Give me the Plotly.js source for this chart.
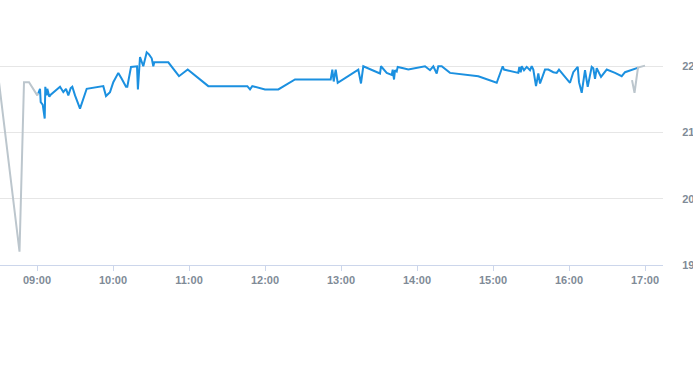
<!DOCTYPE html>
<html>
<head>
<meta charset="utf-8">
<script src="https://cdn.plot.ly/plotly-3.0.1.min.js"></script>
<style>html,body{margin:0;padding:0;background:#fff;}#chart{width:693px;height:365px;}</style>
</head>
<body>
<div id="chart"></div>
<script>
const DAY = "2024-01-01 ";

const blueTimes = ["09:01:02","09:02:22","09:02:55","09:04:30","09:06:05","09:06:33","09:07:40","09:08:08","09:09:43","09:10:49",
"09:18:10","09:20:46","09:22:53","09:24:43","09:26:36","09:27:52","09:30:00","09:33:57","09:39:14","09:52:20",
"09:54:28","09:57:38","10:00:14","10:04:11","10:06:52","10:10:16","10:11:17","10:14:13","10:18:57","10:19:39",
"10:21:19","10:23:55","10:26:36","10:28:25","10:30:33","10:31:49","10:32:36","10:43:40","10:52:06","10:58:58",
"11:15:14","11:46:02","11:48:10","11:49:58","12:00:00","12:10:30","12:23:41","12:51:52","12:53:08","12:54:14",
"12:55:49","12:57:24","13:13:39","13:15:47","13:17:36","13:30:47","13:31:35","13:36:05","13:40:02","13:40:49",
"13:41:51","13:42:38","13:43:58","13:44:46","13:49:11","13:53:08","14:06:19","14:10:16","14:12:52","14:15:33",
"14:16:49","14:19:30","14:26:03","14:48:23","15:02:55","15:07:39","15:08:41","15:19:58","15:20:46","15:21:52",
"15:22:40","15:24:28","15:26:37","15:29:13","15:30:33","15:31:49","15:33:57","15:35:46","15:37:07","15:41:03",
"15:43:40","15:47:37","15:50:17","15:52:06","15:56:50","16:00:47","16:03:23","16:06:52","16:07:53","16:10:02",
"16:12:38","16:14:46","16:17:55","16:19:11","16:20:32","16:21:52","16:25:16","16:29:46","16:36:19","16:41:37",
"16:44:13","16:52:07","16:54:43"];
const blueValues = [21.59,21.66,21.46,21.42,21.21,21.69,21.56,21.66,21.54,21.57,
21.69,21.61,21.66,21.56,21.67,21.69,21.56,21.36,21.66,21.70,
21.55,21.61,21.76,21.90,21.81,21.69,21.69,21.99,22.00,21.65,
22.14,22.00,22.21,22.18,22.12,22.00,22.06,22.06,21.85,21.95,
21.70,21.70,21.65,21.70,21.65,21.65,21.80,21.80,21.95,21.77,
21.95,21.75,21.95,21.74,22.00,21.89,22.00,21.90,21.87,21.95,
21.80,21.94,21.92,21.99,21.97,21.95,22.00,21.94,22.00,21.89,
22.00,22.00,21.90,21.85,21.75,22.00,21.95,21.90,21.99,21.91,
22.00,21.94,21.99,21.94,22.00,21.95,21.70,21.89,21.74,21.95,
21.95,21.91,21.90,21.95,21.84,21.75,21.91,21.99,21.76,21.60,
21.94,21.69,21.99,21.97,21.81,21.97,21.84,21.95,21.90,21.85,
21.91,21.97,21.98];

const grayStartTimes = ["08:30:00","08:46:11","08:49:44","08:53:41","09:00:14","09:01:02"];
const grayStartValues = [21.76,19.20,21.76,21.76,21.56,21.59];

const grayEndTimes = ["16:49:44","16:51:43","16:54:28","17:00:00"];
const grayEndValues = [21.79,21.60,21.98,22.01];

const yTicks = [19,20,21,22];
const xRange = ["08:30:47","17:14:12"];

const toX = arr => arr.map(t => DAY + t);
const grayColor = "#bcc6cd";
const blueColor = "#1b90e0";

const traces = [
  {x: toX(grayStartTimes), y: grayStartValues, type: "scatter", mode: "lines",
   line: {color: grayColor, width: 2}, hoverinfo: "skip"},
  {x: toX(blueTimes), y: blueValues, type: "scatter", mode: "lines",
   line: {color: blueColor, width: 2}},
  {x: toX(grayEndTimes), y: grayEndValues, type: "scatter", mode: "lines",
   line: {color: grayColor, width: 2}, hoverinfo: "skip"}
];

const layout = {
  width: 693, height: 365,
  margin: {l: 0, r: 30, t: 0, b: 100, pad: 0},
  paper_bgcolor: "#ffffff", plot_bgcolor: "#ffffff",
  showlegend: false,
  font: {family: "Liberation Sans, Arial, sans-serif", size: 11, color: "#7f8b97"},
  xaxis: {
    type: "date",
    range: xRange.map(t => DAY + t),
    dtick: 3600000,
    tick0: DAY + "09:00:00",
    tickformat: "%H:%M",
    showgrid: false,
    zeroline: false,
    showline: true, linecolor: "#ccd6eb", linewidth: 1,
    ticks: "outside", ticklen: 5, tickcolor: "#ccd6eb", tickwidth: 1,
    tickfont: {family: "Liberation Sans, Arial, sans-serif", size: 11, color: "#7f8b97", weight: 600}
  },
  yaxis: {
    side: "right",
    range: [19, 23],
    tickvals: yTicks,
    ticktext: yTicks.map(String),
    showgrid: true, gridcolor: "#e6e6e6", gridwidth: 1,
    zeroline: false, showline: false,
    ticks: "outside", ticklen: 16, tickcolor: "rgba(0,0,0,0)",
    tickfont: {family: "Liberation Sans, Arial, sans-serif", size: 11, color: "#7f8b97", weight: 600}
  }
};

Plotly.newPlot("chart", traces, layout, {displayModeBar: false, staticPlot: true});
</script>
</body>
</html>
